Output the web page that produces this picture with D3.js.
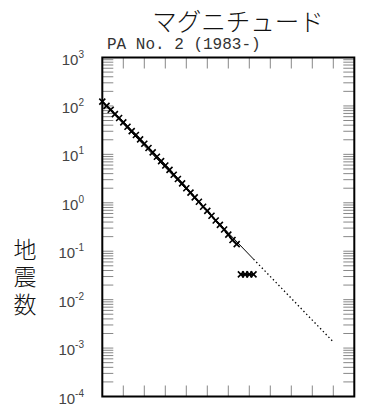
<!DOCTYPE html>
<html>
<head>
<meta charset="utf-8">
<script src="https://cdn.jsdelivr.net/npm/d3@7"></script>
<style>
  body { margin: 0; background: #fff; }
</style>
</head>
<body>
<div id="chart"></div>
<script>
"use strict";

// magnitude (x) and cumulative count per year (y)
let mags = [2.0,2.1,2.2,2.3,2.4,2.5,2.6,2.7,2.8,2.9,3.0,3.1,3.2,3.3,3.4,3.5,3.6,
            3.7,3.8,3.9,4.0,4.1,4.2,4.3,4.4,4.5,4.6,4.7,4.8,4.9,5.0,5.1,5.2];
let counts = [123,100,83.2,67.6,56.2,45.7,37.2,30.2,25.1,20.4,16.6,13.5,11.0,8.91,
              7.24,5.89,4.79,3.80,3.09,2.51,2.00,1.62,1.29,1.05,0.83,0.68,0.54,
              0.43,0.35,0.28,0.22,0.17,0.14];

// separate low group
let tailMags = [5.3,5.4,5.5,5.6];
let tailCounts = [0.0333,0.0333,0.0333,0.0333];

// fitted line: solid over data range, dotted extrapolation
let fitMags = [2.0,5.6,7.5];
let fitCounts = [120.5,0.0687,0.00134];

let decades = [-4,-3,-2,-1,0,1,2,3];
let xTickVals = [2.5,3.0,3.5,4.0,4.5,5.0,5.5,6.0,6.5,7.0,7.5];
let yTitle = "地震数";

let width = 369, height = 405;
let pLeft = 102.3, pRight = 354.3, pTop = 57.5, pBottom = 396.5;

let svg = d3.select("#chart")
.append("svg")
.attr("width",width)
.attr("height",height);

let xScale = d3.scaleLinear()
.domain([2,8])
.range([pLeft,pRight]);

let yScale = d3.scaleLog()
.domain([1e-4,1e3])
.range([pBottom,pTop]);

// minor + major ticks on y (log)
let yTicks = [];
for(let i=0;i<decades.length-1;i=i+1){
  for(let m=1;m<=9;m=m+1){
    yTicks.push(m*Math.pow(10,decades[i]));
  }
}

let tickLen = 11;
let tickColor = "#888";

let ticks = svg.append("g");

ticks.selectAll("line.yl")
.data(yTicks)
.join("line")
.attr("class","yl")
.attr("x1",pLeft).attr("x2",pLeft+tickLen)
.attr("y1",function(d){ return yScale(d); })
.attr("y2",function(d){ return yScale(d); })
.attr("stroke",tickColor).attr("stroke-width",1);

ticks.selectAll("line.yr")
.data(yTicks)
.join("line")
.attr("class","yr")
.attr("x1",pRight-tickLen).attr("x2",pRight)
.attr("y1",function(d){ return yScale(d); })
.attr("y2",function(d){ return yScale(d); })
.attr("stroke",tickColor).attr("stroke-width",1);

ticks.selectAll("line.xt")
.data(xTickVals)
.join("line")
.attr("class","xt")
.attr("x1",function(d){ return xScale(d); })
.attr("x2",function(d){ return xScale(d); })
.attr("y1",pTop).attr("y2",pTop+tickLen)
.attr("stroke",tickColor).attr("stroke-width",1);

ticks.selectAll("line.xb")
.data(xTickVals)
.join("line")
.attr("class","xb")
.attr("x1",function(d){ return xScale(d); })
.attr("x2",function(d){ return xScale(d); })
.attr("y1",pBottom-tickLen).attr("y2",pBottom)
.attr("stroke",tickColor).attr("stroke-width",1);

// frame
svg.append("rect")
.attr("x",pLeft).attr("y",pTop)
.attr("width",pRight-pLeft).attr("height",pBottom-pTop)
.attr("fill","none")
.attr("stroke","#000")
.attr("stroke-width",2);

// y labels 10^n
let labels = svg.selectAll("text.ylab")
.data(decades)
.join("text")
.attr("class","ylab")
.attr("x",84)
.attr("y",function(d){ return yScale(Math.pow(10,d))+7; })
.attr("text-anchor","end")
.attr("font-family","'Liberation Sans', Arial, sans-serif")
.attr("font-size",15)
.attr("fill","#444");

labels.append("tspan").text("10");
labels.append("tspan")
.attr("dy",-7)
.attr("font-size",10)
.text(function(d){ return d<0 ? "-"+(-d) : String(d); });

// fitted line
let line = d3.line()
.x(function(d){ return xScale(d[0]); })
.y(function(d){ return yScale(d[1]); });

let fitPts = d3.zip(fitMags,fitCounts);

svg.append("path")
.attr("d",line(fitPts.slice(0,2)))
.attr("fill","none")
.attr("stroke","#000")
.attr("stroke-width",1);

svg.append("path")
.attr("d",line(fitPts.slice(1,3)))
.attr("fill","none")
.attr("stroke","#000")
.attr("stroke-width",1.3)
.attr("stroke-dasharray","1.4,2.6");

// data line + x markers
function drawSeries(ms, cs){
  let pts = d3.zip(ms,cs);
  svg.append("path")
  .attr("d",line(pts))
  .attr("fill","none")
  .attr("stroke","#000")
  .attr("stroke-width",1.8);

  let s = 3;
  svg.append("g")
  .selectAll("path")
  .data(pts)
  .join("path")
  .attr("d",function(d){
    let x = xScale(d[0]), y = yScale(d[1]);
    return "M"+(x-s)+","+(y-s)+"L"+(x+s)+","+(y+s)+
           "M"+(x-s)+","+(y+s)+"L"+(x+s)+","+(y-s);
  })
  .attr("stroke","#000")
  .attr("stroke-width",1.6);
}

drawSeries(mags,counts);
drawSeries(tailMags,tailCounts);

// titles
svg.append("text")
.attr("x",238)
.attr("y",31)
.attr("text-anchor","middle")
.attr("font-family","'Noto Sans CJK JP', sans-serif")
.attr("font-weight",300)
.attr("font-size",24.5)
.attr("fill","#111")
.text("マグニチュード");

svg.append("text")
.attr("x",107)
.attr("y",49)
.attr("font-family","'Liberation Mono', 'DejaVu Sans Mono', monospace")
.attr("font-size",16)
.attr("fill","#333")
.text("PA No. 2 (1983-)");

// vertical y title
svg.append("text")
.attr("x",25)
.attr("y",279)
.attr("text-anchor","middle")
.style("writing-mode","vertical-rl")
.style("letter-spacing","4.5px")
.attr("font-family","'Noto Sans CJK JP', sans-serif")
.attr("font-weight",300)
.attr("font-size",23)
.attr("fill","#111")
.text(yTitle);
</script>
</body>
</html>
